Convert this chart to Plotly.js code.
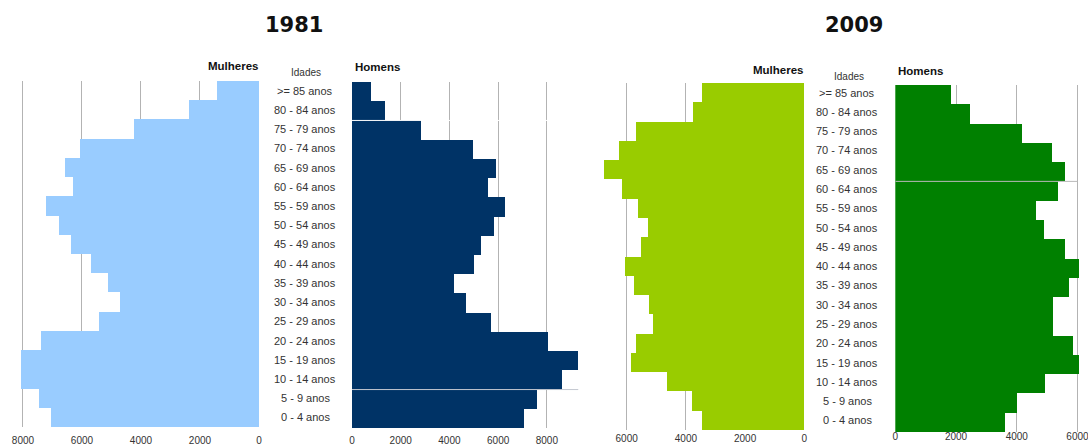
<!DOCTYPE html>
<html>
<head>
<meta charset="utf-8">
<script src="https://cdn.plot.ly/plotly-3.0.1.min.js"></script>
<style>html,body{margin:0;padding:0;background:#fff;}#chart{width:1088px;height:447px;}</style>
</head>
<body>
<div id="chart"></div>
<script>
var ages = ["0 - 4 anos","5 - 9 anos","10 - 14 anos","15 - 19 anos","20 - 24 anos","25 - 29 anos","30 - 34 anos","35 - 39 anos","40 - 44 anos","45 - 49 anos","50 - 54 anos","55 - 59 anos","60 - 64 anos","65 - 69 anos","70 - 74 anos","75 - 79 anos","80 - 84 anos",">= 85 anos"];
var mulheres1981 = [7060,7470,8080,8080,7390,5420,4700,5110,5690,6380,6780,7230,6310,6590,6070,4250,2380,1420];
var homens1981   = [7080,7600,8620,9270,8040,5710,4680,4200,5010,5310,5850,6300,5600,5900,4980,2820,1370,770];
var mulheres2009 = [3470,3790,4630,5840,5680,5120,5240,5760,6050,5530,5280,5630,6170,6770,6270,5690,3760,3470];
var homens2009   = [3620,4010,4920,6100,5860,5200,5200,5730,6100,5580,4910,4650,5350,5580,5150,4170,2450,1830];
var years = ["1981","2009"];
var ticks1981 = [0,2000,4000,6000,8000];
var ticks2009 = [0,2000,4000,6000];

var W = 1088, H = 447;
function px(x){return x/W;}
function py(y){return 1 - y/H;}
var FONT = "Liberation Sans, Arial, sans-serif";

function bar(vals, color, xa, ya){
  return {type:'bar', orientation:'h', x:vals, y:ages, xaxis:xa, yaxis:ya,
    marker:{color:color, line:{width:0}}, hoverinfo:'skip'};
}
var data = [
  bar(mulheres1981, '#99ccff', 'x', 'y'),
  bar(homens1981, '#003366', 'x2', 'y2'),
  bar(mulheres2009, '#99cc00', 'x3', 'y3'),
  bar(homens2009, '#008000', 'x4', 'y4')
];

function xax(dom, range, tv, standoff){
  return {domain:[px(dom[0]),px(dom[1])], range:range, tickvals:tv, ticktext:tv.map(String),
    showgrid:true, gridcolor:'#b3b3b3', gridwidth:1, zeroline:false, showline:false,
    ticks:'', ticklabelstandoff:standoff, ticklabeloverflow:'allow',
    tickfont:{family:FONT, size:10, color:'#333'}, fixedrange:true};
}
function yax(top, bottom, anchor){
  return {domain:[py(bottom), py(top)], type:'category', categoryorder:'array', categoryarray:ages,
    range:[-0.5, ages.length-0.5], showticklabels:false, showgrid:false, zeroline:false,
    showline:false, ticks:'', anchor:anchor, fixedrange:true};
}

var layout = {
  width:W, height:H, margin:{l:0,r:0,t:0,b:0}, paper_bgcolor:'#fff', plot_bgcolor:'rgba(0,0,0,0)',
  showlegend:false, bargap:0, barmode:'overlay',
  xaxis:  xax([20,259],   [8100,0], ticks1981, 6),
  xaxis2: xax([352,578.5],[0,9300], ticks1981, 6),
  xaxis3: xax([603,804.3],[6800,0], ticks2009, 4),
  xaxis4: xax([895.3,1079],[0,6050], ticks2009, 2),
  yaxis:  yax(81,427,'x'),
  yaxis2: yax(82,428,'x2'),
  yaxis3: yax(83,430,'x3'),
  yaxis4: yax(85,432,'x4'),
  shapes:[
    {type:'line', xref:'x2', yref:'y2', x0:0, x1:9300, y0:15.5, y1:15.5, line:{color:'#ffffff', width:1}, layer:'above'},
    {type:'line', xref:'x2', yref:'y2', x0:0, x1:9300, y0:1.5, y1:1.5, line:{color:'#c4c8d0', width:1}, layer:'above'},
    {type:'line', xref:'x4', yref:'y4', x0:0, x1:6000, y0:12.5, y1:12.5, line:{color:'#b8b8b8', width:1}, layer:'above'}
  ],
  annotations:[]
};

var ann = layout.annotations;
function txt(t, x, y, anchor, size, bold, fam){
  ann.push({text: bold ? '<b>'+t+'</b>' : t, xref:'paper', yref:'paper', x:px(x), y:py(y),
    xanchor:anchor, yanchor:'middle', showarrow:false, borderpad:0,
    font:{family:fam||FONT, size:size, color: bold ? '#111' : '#333'}});
}
txt(years[0], 294.3, 25.5, 'center', 21, true, "DejaVu Sans, Verdana, sans-serif");
txt(years[1], 854, 25.5, 'center', 21, true, "DejaVu Sans, Verdana, sans-serif");
txt('Mulheres', 259.5, 66, 'right', 11.5, true);
txt('Homens', 354.3, 67.3, 'left', 11.5, true);
txt('Idades', 306, 72.3, 'center', 10, false);
txt('Mulheres', 805, 69.7, 'right', 11.5, true);
txt('Homens', 896.7, 70.7, 'left', 11.5, true);
txt('Idades', 849, 76, 'center', 10, false);

ages.forEach(function(a, i){
  ann.push({text:a, xref:'paper', yref:'y', x:px(305), y:i, xanchor:'center', yanchor:'middle',
    showarrow:false, font:{family:FONT, size:11, color:'#333'}});
  ann.push({text:a, xref:'paper', yref:'y3', x:px(847), y:i, xanchor:'center', yanchor:'middle',
    showarrow:false, font:{family:FONT, size:11, color:'#333'}});
});

Plotly.newPlot('chart', data, layout, {staticPlot:true, displayModeBar:false});
</script>
</body>
</html>
